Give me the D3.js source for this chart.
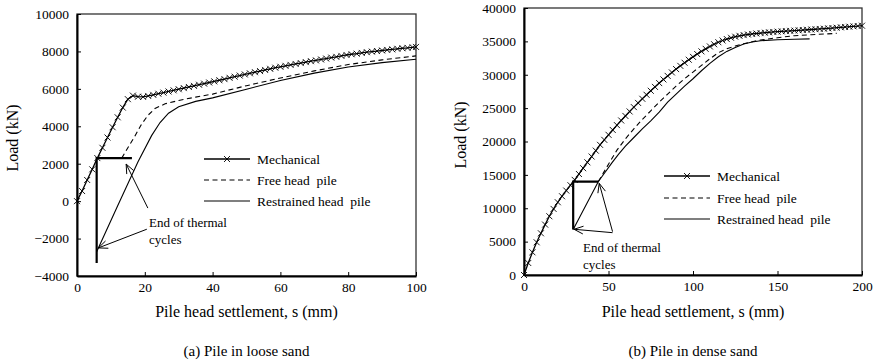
<!DOCTYPE html>
<html><head><meta charset="utf-8">
<script src="https://cdn.jsdelivr.net/npm/d3@7"></script>
<style>
body{margin:0;background:#fff}
svg{display:block}
svg text{font-family:"Liberation Serif","Times New Roman",serif !important;fill:#000}
</style>
</head><body>
<svg id="c" width="876" height="363"></svg>
<script>
// ---------- DATA: (a) Pile in loose sand ----------
const mechA_s = [0,1.5,3,4.5,6,7.5,9,10.5,12,13.5,15,16.5,18,19.5,21,22.5,24,25.5,27,28.5,30,31.5,33,34.5,36,37.5,39,40.5,42,43.5,45,46.5,48,49.5,51,52.5,54,55.5,57,58.5,60,61.5,63,64.5,66,67.5,69,70.5,72,73.5,75,76.5,78,79.5,81,82.5,84,85.5,87,88.5,90,91.5,93,94.5,96,97.5,99,100];
const mechA_load = [0,540,1130,1700,2300,2850,3400,3950,4480,5000,5450,5640,5580,5570,5620,5680,5740,5800,5860,5920,5980,6040,6100,6160,6220,6280,6340,6400,6460,6520,6590,6650,6710,6770,6830,6890,6950,7010,7070,7130,7180,7230,7280,7330,7380,7430,7480,7520,7570,7620,7670,7710,7760,7810,7850,7880,7920,7960,7990,8020,8050,8080,8110,8140,8170,8190,8220,8240];
const freeA_s = [13.2,15,17,19,21,23,26,30,35,40,50,60,70,80,90,100];
const freeA_load = [2300,2850,3450,4100,4600,4950,5200,5380,5560,5720,6170,6580,6960,7300,7550,7760];
const restA_s = [5.8,12,18,22,24.5,27,30,35,40,50,60,70,80,90,100];
const restA_load = [-2700,-250,2100,3500,4200,4700,5040,5330,5520,5980,6450,6840,7170,7400,7580];
// thermal cycle path (horizontal then vertical)
const thermA_s = [16.2,5.8,5.8];
const thermA_load = [2300,2300,-3300];
// annotation arrows [from s, from load, to s, to load]
const arrowsA = [[20.6,-1500,6.3,-2500],[20.9,-370,14.5,1980]];
const xTicksA = [0,20,40,60,80,100];
const yTicksA = [-4000,-2000,0,2000,4000,6000,8000,10000];

// ---------- DATA: (b) Pile in dense sand ----------
const mechB_s = [0,2.5,5,7.5,10,12.5,15,17.5,20,22.5,25,27.5,30,32.5,35,37.5,40,42.5,45,47.5,50,52.5,55,57.5,60,62.5,65,67.5,70,72.5,75,77.5,80,82.5,85,87.5,90,92.5,95,97.5,100,102.5,105,107.5,110,112.5,115,117.5,120,122.5,125,127.5,130,132.5,135,137.5,140,142.5,145,147.5,150,152.5,155,157.5,160,162.5,165,167.5,170,172.5,175,177.5,180,182.5,185,187.5,190,192.5,195,197.5,200];
const mechB_load = [0,1800,3400,4900,6250,7550,8800,9900,10900,11800,12650,13450,14250,15130,16000,16880,17750,18630,19500,20250,21000,21730,22450,23150,23830,24500,25150,25780,26400,27000,27600,28180,28750,29300,29830,30350,30850,31330,31800,32250,32680,33100,33500,33880,34240,34570,34870,35130,35350,35540,35700,35830,35940,36030,36110,36180,36240,36300,36360,36410,36460,36500,36540,36580,36620,36660,36700,36740,36780,36820,36860,36900,36950,37000,37050,37100,37150,37200,37250,37300,37350];
const freeB_s = [44,47,50,55,60,65,70,75,80,85,90,95,100,105,110,115,120,125,130,135,140,150,160,170,185];
const freeB_load = [14000,15300,16600,18700,20400,21900,23300,24600,25900,27100,28300,29400,30400,31400,32400,33300,33900,34300,34650,34950,35200,35550,35850,36000,36200];
const restB_s = [29.1,44,48,52,56,60,65,70,75,80,85,90,95,100,105,110,115,120,125,130,135,140,150,160,169];
const restB_load = [6800,14000,15400,16800,18100,19300,20600,21900,23100,24400,25900,27100,28300,29400,30600,31700,32700,33500,34100,34600,34900,35100,35250,35320,35380];
const thermB_s = [44,29.1,29.1];
const thermB_load = [14000,14000,6800];
const arrowsB = [[52.4,6340,29.6,6850],[52.4,6500,44.5,13740]];
const xTicksB = [0,50,100,150,200];
const yTicksB = [0,5000,10000,15000,20000,25000,30000,35000,40000];

const legendLabels = ["Mechanical","Free head  pile","Restrained head  pile"];

const FONT = '"Liberation Serif","Times New Roman",serif';
const svg = d3.select("#c");

function zip(a,b){return a.map((v,i)=>[v,b[i]]);}

function panel(o){
  const g = svg.append("g");
  const x = d3.scaleLinear().domain(o.xDomain).range(o.xRange);
  const y = d3.scaleLinear().domain(o.yDomain).range(o.yRange);
  const line = d3.line().x(d=>x(d[0])).y(d=>y(d[1]));

  g.append("rect").attr("x",o.xRange[0]).attr("y",o.yRange[1])
    .attr("width",o.xRange[1]-o.xRange[0]).attr("height",o.yRange[0]-o.yRange[1])
    .attr("fill","none").attr("stroke","#333").attr("stroke-width",1.3);

  const xa = d3.axisBottom(x).tickValues(o.xTicks).tickSize(-4).tickSizeOuter(0).tickPadding(6).tickFormat(d3.format("d"));
  const gx = g.append("g").attr("transform",`translate(0,${o.yRange[0]})`).call(xa);
  const ya = d3.axisLeft(y).tickValues(o.yTicks).tickSize(-4).tickSizeOuter(0).tickPadding(8).tickFormat(d3.format("d"));
  const gy = g.append("g").attr("transform",`translate(${o.xRange[0]},0)`).call(ya);
  [gx,gy].forEach(a=>{
    a.attr("font-family",null).attr("font-size",null);
    a.select(".domain").attr("stroke","#000").attr("stroke-width",2);
    a.selectAll(".tick line").attr("stroke","#000").attr("stroke-width",1);
    a.selectAll(".tick text").style("font-family",FONT).style("font-size","13.5px");
  });

  g.append("path").attr("d",line(zip(o.thermS,o.thermL))).attr("fill","none")
    .attr("stroke","#000").attr("stroke-width",2.2);
  g.append("path").attr("d",line(zip(o.restS,o.restL))).attr("fill","none")
    .attr("stroke","#000").attr("stroke-width",1.1);
  g.append("path").attr("d",line(zip(o.freeS,o.freeL))).attr("fill","none")
    .attr("stroke","#000").attr("stroke-width",1.1).attr("stroke-dasharray","5,3.5");
  const mech = zip(o.mechS,o.mechL);
  g.append("path").attr("d",line(mech)).attr("fill","none")
    .attr("stroke","#000").attr("stroke-width",1.3);
  const ms = 3;
  g.selectAll(".mk").data(mech).enter().append("path")
    .attr("d",d=>{const cx=x(d[0]),cy=y(d[1]);return `M${cx-ms},${cy-ms}L${cx+ms},${cy+ms}M${cx-ms},${cy+ms}L${cx+ms},${cy-ms}`;})
    .attr("stroke","#000").attr("stroke-width",0.9).attr("fill","none");

  o.arrows.forEach(a=>{
    const x1=x(a[0]),y1=y(a[1]),x2=x(a[2]),y2=y(a[3]);
    g.append("line").attr("x1",x1).attr("y1",y1).attr("x2",x2).attr("y2",y2)
      .attr("stroke","#000").attr("stroke-width",1);
    const ang=Math.atan2(y1-y2,x1-x2), L=10, h=0.4;
    g.append("path").attr("d",`M${x2+L*Math.cos(ang+h)},${y2+L*Math.sin(ang+h)}L${x2},${y2}L${x2+L*Math.cos(ang-h)},${y2+L*Math.sin(ang-h)}`)
      .attr("stroke","#000").attr("stroke-width",1).attr("fill","none");
  });
  const t = (sel)=>sel.style("font-family",FONT);
  t(g.append("text").attr("x",o.annX).attr("y",o.annY).style("font-size","13px").text("End of thermal"));
  t(g.append("text").attr("x",o.annX).attr("y",o.annY+17).style("font-size","13px").text("cycles"));

  const lx0=o.legX, lx1=o.legX+46;
  o.legY.forEach((ly,i)=>{
    const ln=g.append("line").attr("x1",lx0).attr("x2",lx1).attr("y1",ly).attr("y2",ly)
      .attr("stroke","#000").attr("stroke-width",i===0?1.3:1.1);
    if(i===1) ln.attr("stroke-dasharray","5,3.5");
    if(i===0){const cx=(lx0+lx1)/2;
      g.append("path").attr("d",`M${cx-ms},${ly-ms}L${cx+ms},${ly+ms}M${cx-ms},${ly+ms}L${cx+ms},${ly-ms}`)
        .attr("stroke","#000").attr("stroke-width",0.9);}
    t(g.append("text").attr("x",lx1+7).attr("y",ly+4.5).style("font-size","13.5px")
      .style("white-space","pre").text(legendLabels[i]));
  });

  const cxm=(o.xRange[0]+o.xRange[1])/2;
  t(g.append("text").attr("x",cxm).attr("y",317).attr("text-anchor","middle").style("font-size","16px")
    .text("Pile head settlement, s (mm)"));
  t(g.append("text").attr("x",cxm).attr("y",356).attr("text-anchor","middle").style("font-size","15px")
    .text(o.caption));
  t(g.append("text").attr("transform",`translate(${o.yTitleX},${o.yTitleY}) rotate(-90)`)
    .attr("text-anchor","middle").style("font-size","16px").text("Load (kN)"));
}

panel({xDomain:[0,100],xRange:[77,416],yDomain:[-4000,10000],yRange:[276,14],
  xTicks:xTicksA,yTicks:yTicksA,mechS:mechA_s,mechL:mechA_load,freeS:freeA_s,freeL:freeA_load,
  restS:restA_s,restL:restA_load,thermS:thermA_s,thermL:thermA_load,arrows:arrowsA,
  annX:149,annY:227,legX:204,legY:[159,180,201],caption:"(a) Pile in loose sand",yTitleX:18,yTitleY:138});

panel({xDomain:[0,200],xRange:[524,862],yDomain:[0,40000],yRange:[275,8],
  xTicks:xTicksB,yTicks:yTicksB,mechS:mechB_s,mechL:mechB_load,freeS:freeB_s,freeL:freeB_load,
  restS:restB_s,restL:restB_load,thermS:thermB_s,thermL:thermB_load,arrows:arrowsB,
  annX:583,annY:252,legX:664,legY:[176,198,219],caption:"(b) Pile in dense sand",yTitleX:466,yTitleY:135});
</script>
</body></html>
